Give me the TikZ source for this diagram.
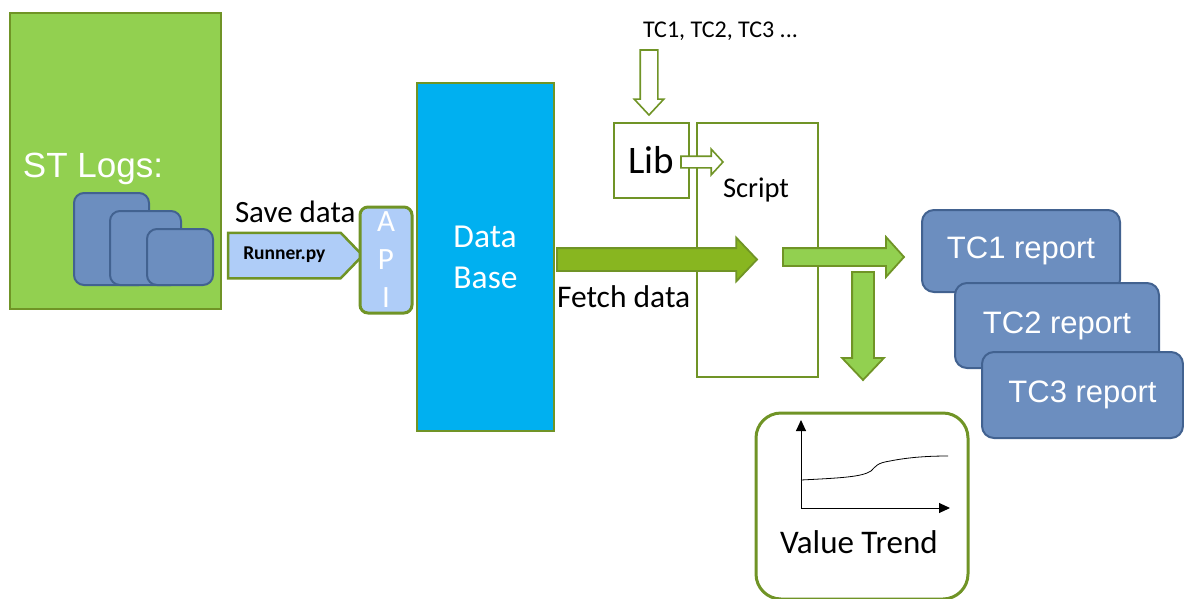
\documentclass[tikz,border=0pt]{standalone}
\usepackage{fontspec}
\setmainfont{Carlito}
\newfontfamily\arialfont{Liberation Sans}
\usepackage{tikz}
\usetikzlibrary{shapes.arrows, arrows.meta, positioning}

\definecolor{leafgreen}{RGB}{146,208,80}
\definecolor{olivegreen}{RGB}{112,148,38}
\definecolor{fetchgreen}{RGB}{136,182,32}
\definecolor{slateblue}{RGB}{108,142,191}
\definecolor{slateedge}{RGB}{66,98,144}
\definecolor{skyblue}{RGB}{0,176,240}
\definecolor{paleblue}{RGB}{175,205,248}

\newcommand{\fsz}[2]{\fontsize{#1}{#2}\selectfont}

\begin{document}
\begin{tikzpicture}[
        x=1pt, y=-1pt,
        every node/.style={inner sep=0pt, outer sep=0pt},
        box/.style={
            rectangle,
            draw=olivegreen,
            line width=2.5pt,
            anchor=north west
        },
        logbox/.style={
            rectangle,
            rounded corners=10pt,
            draw=slateedge,
            line width=2pt,
            fill=slateblue,
            anchor=north west
        },
        reportbox/.style={
            logbox,
            rounded corners=12pt,
            text=white,
            font=\arialfont\fsz{31}{36}
        },
        fatarrow/.style={
            single arrow,
            draw=olivegreen,
            line width=1.8pt,
            fill=leafgreen,
            anchor=tail,
            minimum width=0pt
        },
        hollowarrow/.style={
            fatarrow,
            fill=white,
            line width=1.6pt
        },
        plaintext/.style={
            anchor=base west,
            text=black
        },
        axis/.style={
            line width=1pt,
            -{Triangle[length=11pt, width=10pt]}
        }
    ]
    \useasboundingbox (0,0) rectangle (1184,598);

    % Logs
    \node[box, fill=leafgreen, minimum width=211, minimum height=296] (stlogs) at (10,13) {};
    \node[plaintext, text=white, font=\arialfont\fsz{35}{40}] (stlabel) at (23,177) {ST Logs:};
    \node[logbox, minimum width=75, minimum height=92] (log1) at (74,193) {};
    \node[logbox, minimum width=71, minimum height=74] (log2) at (110,211) {};
    \node[logbox, minimum width=66, minimum height=56] (log3) at (147,229) {};

    % Saving
    \node[plaintext, font=\fsz{31}{36}] (savelabel) at (235,222) {Save data};
    \node[fatarrow, fill=paleblue, line width=2.5pt, text height=12pt, text depth=4pt,
          inner ysep=13.5pt, inner xsep=14pt, single arrow head extend=0pt,
          single arrow tip angle=92, minimum height=126, font=\bfseries\fsz{19.5}{22}]
          (runner) at (228,255.5) {Runner.py};
    \node[box, rounded corners=8pt, fill=paleblue, line width=3pt, minimum width=52,
          minimum height=106, text=white, align=center, font=\fsz{31}{38}]
          (api) at (360,207) {A\\P\\I};

    % Data base and script
    \node[box, fill=skyblue, minimum width=137, minimum height=348, text=white,
          align=left, font=\fsz{33.5}{41}] (db) at (417,83) {Data\\Base};
    \node[box, fill=white, line width=2.2pt, minimum width=121, minimum height=254] (script) at (697,123) {};
    \node[plaintext, font=\fsz{28.5}{32}] (scriptlabel) at (723,197) {Script};
    \node[box, fill=white, line width=2.2pt, minimum width=75, minimum height=75,
          font=\fsz{39}{40}] (lib) at (614,123) {Lib};
    \node[plaintext, font=\fsz{24}{28}] (tclist) at (643,37) {TC1, TC2, TC3 ...};

    % Arrows
    \node[fatarrow, fill=fetchgreen, inner ysep=10.5pt, single arrow head extend=10.5pt,
          single arrow tip angle=93, minimum height=200] (fetch) at (557,259.5) {};
    \node[plaintext, font=\fsz{31.5}{36}] (fetchlabel) at (557,307) {Fetch data};
    \node[hollowarrow, rotate=-90, inner ysep=8pt, single arrow head extend=6pt,
          single arrow tip angle=86, minimum height=65] (tcarrow) at (649,50) {};
    \node[hollowarrow, inner ysep=5pt, single arrow head extend=7pt,
          single arrow tip angle=95, minimum height=42] (libarrow) at (681,162) {};
    \node[fatarrow, inner ysep=8pt, single arrow head extend=11pt,
          single arrow tip angle=96, minimum height=121] (outarrow) at (783,257) {};
    \node[fatarrow, rotate=-90, inner ysep=10pt, single arrow head extend=10pt,
          single arrow tip angle=87, minimum height=108] (trendarrow) at (863,272) {};

    % Reports
    \node[reportbox, minimum width=198, minimum height=82] (rpt1) at (922,210) {TC1 report};
    \node[reportbox, minimum width=204, minimum height=85] (rpt2) at (955,283) {TC2 report};
    \node[reportbox, minimum width=201, minimum height=86] (rpt3) at (982,352) {TC3 report};

    % Value trend
    \node[box, fill=white, rounded corners=25pt, line width=3pt, minimum width=212,
          minimum height=186] (trend) at (756,413) {};
    \coordinate (origin) at (801,508);
    \coordinate (ytop) at (801,420);
    \coordinate (xend) at (950,508);
    \draw[axis] (origin) -- (ytop);
    \draw[axis] (origin) -- (xend);
    \draw[line width=0.8pt] (801,480) .. controls (840,478) and (862,477) .. (871,471)
        .. controls (876,466) and (877,463) .. (890,461)
        .. controls (910,457) and (930,456) .. (948,456);
    \node[plaintext, font=\fsz{33}{36}] (trendlabel) at (780,553) {Value Trend};
\end{tikzpicture}
\end{document}
